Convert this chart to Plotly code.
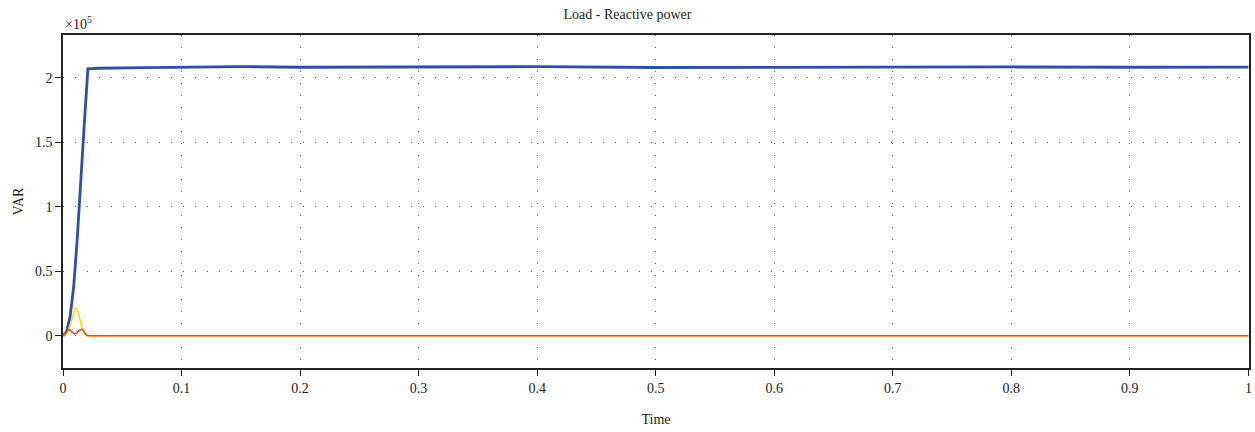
import plotly.graph_objects as go

# Time samples and series values (VAR)
t_blue = [0, 0.003, 0.006, 0.009, 0.012, 0.015, 0.018, 0.021, 0.03, 0.07, 0.15, 0.2, 0.35, 0.4, 0.5, 0.6, 0.7, 0.8, 0.9, 1.0]
q_blue = [0, 3e3, 15e3, 38e3, 75e3, 125e3, 165e3, 207e3, 207.5e3, 208e3, 208.8e3, 208.3e3, 208.7e3, 208.7e3, 208.1e3, 208.3e3, 208.7e3, 208.5e3, 208.3e3, 208.4e3]

t_yellow = [0, 0.003, 0.006, 0.008, 0.010, 0.011, 0.012, 0.014, 0.016, 0.018, 0.020, 0.025, 1.0]
q_yellow = [0, 2e3, 8e3, 15e3, 20.5e3, 21.5e3, 20.5e3, 14e3, 6e3, 1.5e3, 0, 0, 0]

t_red = [0, 0.002, 0.004, 0.005, 0.006, 0.008, 0.010, 0.012, 0.014, 0.016, 0.017, 0.018, 0.020, 0.022, 0.025, 1.0]
q_red = [0, 1.5e3, 4e3, 4.8e3, 4.5e3, 2.5e3, 1.5e3, 2.5e3, 4.5e3, 5e3, 4.5e3, 2.5e3, 0.5e3, 0, 0, 0]

x_ticks = [0, 0.1, 0.2, 0.3, 0.4, 0.5, 0.6, 0.7, 0.8, 0.9, 1]
x_ticktext = ["0", "0.1", "0.2", "0.3", "0.4", "0.5", "0.6", "0.7", "0.8", "0.9", "1"]
y_ticks = [0, 0.5e5, 1e5, 1.5e5, 2e5]
y_ticktext = ["0", "0.5", "1", "1.5", "2"]

FONT = "Liberation Serif"
DASH = "1px,11px"

fig = go.Figure()
fig.add_trace(go.Scatter(x=t_blue, y=q_blue, mode="lines", line=dict(color="#2f4fa6", width=2.8), showlegend=False))
fig.add_trace(go.Scatter(x=t_yellow, y=q_yellow, mode="lines", line=dict(color="#f2dc0a", width=1.5), showlegend=False))
fig.add_trace(go.Scatter(x=t_red, y=q_red, mode="lines", line=dict(color="#e8472a", width=1.5), showlegend=False))

fig.update_layout(
    width=1255, height=432,
    margin=dict(l=63, r=6, t=35, b=64, autoexpand=False),
    paper_bgcolor="white", plot_bgcolor="white",
    font=dict(family=FONT, size=14, color="#222"),
    title=dict(text="Load - Reactive power", x=0.5, xanchor="center", y=0.968, yanchor="middle",
               font=dict(family=FONT, size=14, color="#222"), automargin=False),
    xaxis=dict(range=[0, 1.0005], tickvals=x_ticks, ticktext=x_ticktext,
               showline=True, linecolor="#222", linewidth=1.5, mirror=True,
               ticks="outside", ticklen=6, tickcolor="#222",
               showgrid=True, gridcolor="#555", griddash=DASH, gridwidth=1,
               zeroline=False, automargin=False,
               title=dict(text="Time", font=dict(family=FONT, size=14), standoff=20)),
    yaxis=dict(range=[-0.25e5, 2.333e5], tickvals=y_ticks, ticktext=y_ticktext,
               showline=True, linecolor="#222", linewidth=1.5, mirror=True,
               ticks="outside", ticklen=6, tickcolor="#222",
               showgrid=True, gridcolor="#555", griddash=DASH, gridwidth=1,
               zeroline=False, automargin=False,
               title=dict(text="VAR", font=dict(family=FONT, size=14), standoff=8)),
    annotations=[dict(text="×10<sup>5</sup>", x=0, y=1, xref="paper", yref="paper",
                      xanchor="left", yanchor="bottom", showarrow=False, yshift=1,
                      font=dict(family=FONT, size=14, color="#222"))],
)

fig.write_html("out.html", config={"displayModeBar": False},
               post_script="document.body.style.margin='0';document.body.style.overflow='hidden';")
